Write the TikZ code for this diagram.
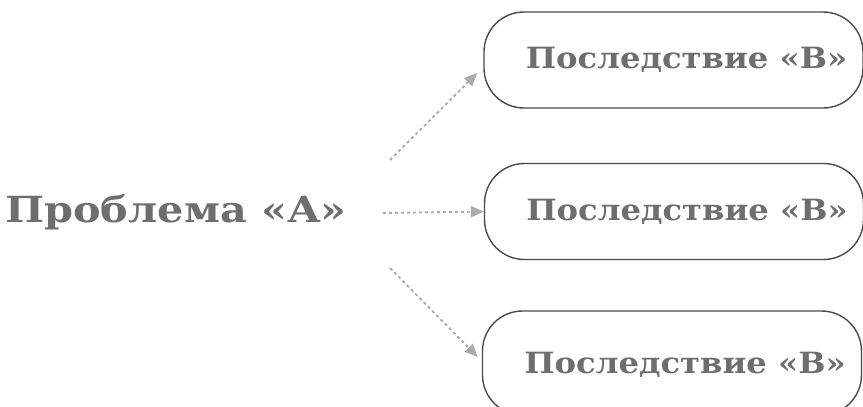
\documentclass[tikz,border=0pt]{standalone}
\usepackage{fontspec}
\setmainfont{DejaVu Serif}
\newfontfamily\boxserif[FakeStretch=1.1]{DejaVu Serif}
\newfontfamily\headserif[FakeStretch=1.15]{DejaVu Serif}
\usetikzlibrary{arrows.meta,calc}
\definecolor{textgray}{HTML}{6E6E6E}
\definecolor{boxline}{HTML}{4A4A4A}
\definecolor{arrowgray}{HTML}{ABABAB}
\tikzset{
  consequence/.style={draw=boxline, line width=1.4pt, rounded corners=40pt,
    minimum width=379pt, minimum height=96pt, inner sep=0pt,
    text=textgray, font=\boxserif\fontsize{29.3}{35}\selectfont\bfseries},
  problem/.style={text=textgray, inner sep=0pt,
    font=\headserif\fontsize{36}{42}\selectfont\bfseries},
  link/.style={draw=arrowgray, line width=1.9pt, dash pattern=on 3pt off 3pt,
    -{Triangle[length=13pt,width=11pt]}}
}
\newcommand{\consequencetext}{\hspace*{26pt}Последствие «В»}
\begin{document}
\begin{tikzpicture}[x=1pt,y=-1pt]
  \useasboundingbox (0,0) rectangle (863,407);
  \clip (0,0) rectangle (863,407);
  \node[problem] (p) at (176,212) {Проблема «А»};
  \node[consequence] (c1) at (673.5,60) {\consequencetext};
  \node[consequence] (c2) at (674,211.5) {\consequencetext};
  % the lowest box runs off the bottom edge
  \node[consequence, minimum height=104pt, text depth=-4pt] (c3) at (672,363) {\consequencetext};
  \coordinate (s1) at (390,160);
  \coordinate (s2) at (383,213);
  \coordinate (s3) at (390,268);
  \draw[link] (s1) -- ($(c1.west)+(-6,13)$);
  \draw[link] (s2) -- (c2.west);
  \draw[link] (s3) -- ($(c3.west)+(-4,-6)$);
\end{tikzpicture}
\end{document}
